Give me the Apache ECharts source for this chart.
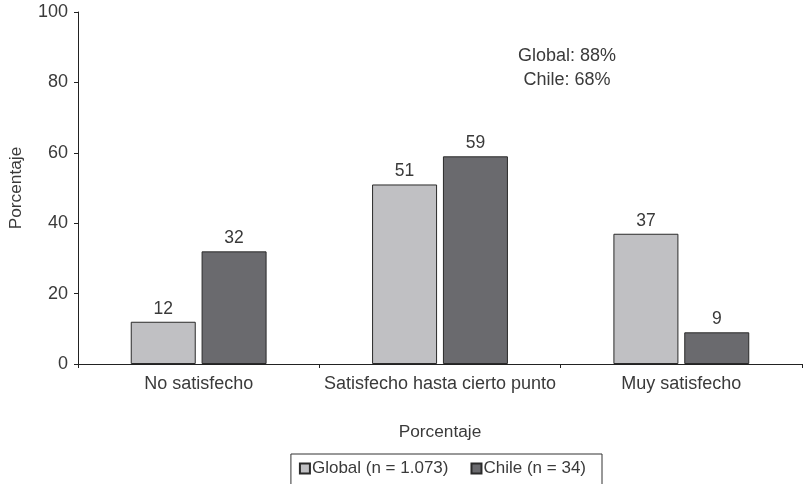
<!DOCTYPE html>
<html>
<head>
<meta charset="utf-8">
<script src="https://cdn.jsdelivr.net/npm/echarts@6/dist/echarts.min.js"></script>
<style>
  html, body { margin: 0; padding: 0; background: #fff; }
  #chart { width: 803px; height: 484px; }
</style>
</head>
<body>
<div id="chart"></div>
<script>
// Satisfaction levels and percentages per group
const categories = ['No satisfecho', 'Satisfecho hasta cierto punto', 'Muy satisfecho'];
const globalValues = [12, 51, 37];
const chileValues = [32, 59, 9];
const seriesNames = ['Global (n = 1.073)', 'Chile (n = 34)'];
const noteLines = ['Global: 88%', 'Chile: 68%'];

const FONT = 'Liberation Sans, Arial, sans-serif';
const TEXT = '#3a3a3a';

const chart = echarts.init(document.getElementById('chart'), null, { renderer: 'canvas' });

const barLabel = {
  show: true,
  position: 'top',
  distance: 4,
  color: TEXT,
  fontFamily: FONT,
  fontSize: 17.5
};

// Summary note, one centred line per group
const noteGraphics = noteLines.map((line, i) => ({
  type: 'text',
  x: 567,
  y: 56 + i * 24,
  style: {
    text: line,
    fill: TEXT,
    font: '18px ' + FONT,
    align: 'center',
    verticalAlign: 'middle'
  }
}));

chart.setOption({
  animation: false,
  grid: { left: 73, right: 1, top: 12, bottom: 120, containLabel: false },
  legend: {
    right: 201,
    top: 454,
    data: seriesNames,
    icon: 'rect',
    itemWidth: 10,
    itemHeight: 10,
    itemGap: 22,
    borderColor: '#333',
    borderWidth: 1,
    padding: [6, 16, 10, 8],
    textStyle: { color: TEXT, fontFamily: FONT, fontSize: 17, padding: [0, 0, 0, -3] }
  },
  xAxis: {
    type: 'category',
    data: categories,
    name: 'Porcentaje',
    nameLocation: 'middle',
    nameGap: 60,
    nameTextStyle: { color: TEXT, fontFamily: FONT, fontSize: 17.3 },
    axisLine: { lineStyle: { color: '#222', width: 1 } },
    axisTick: { show: true, length: 4, alignWithLabel: false, lineStyle: { color: '#222' } },
    axisLabel: { interval: 0, color: TEXT, fontFamily: FONT, fontSize: 18, margin: 11 }
  },
  yAxis: {
    type: 'value',
    min: 0,
    max: 100,
    interval: 20,
    name: 'Porcentaje',
    nameLocation: 'middle',
    nameGap: 53,
    nameTextStyle: { color: TEXT, fontFamily: FONT, fontSize: 17.3 },
    axisLine: { show: true, lineStyle: { color: '#222', width: 1 } },
    axisTick: { show: true, length: 4, lineStyle: { color: '#222' } },
    axisLabel: { color: TEXT, fontFamily: FONT, fontSize: 18, margin: 10 },
    splitLine: { show: false }
  },
  graphic: noteGraphics,
  series: [
    {
      name: seriesNames[0],
      type: 'bar',
      data: globalValues,
      barWidth: 65,
      barGap: '9%',
      itemStyle: { color: '#c0c0c3', borderColor: '#2a2a2a', borderWidth: 1 },
      label: barLabel
    },
    {
      name: seriesNames[1],
      type: 'bar',
      data: chileValues,
      barWidth: 65,
      itemStyle: { color: '#6a6a6e', borderColor: '#2a2a2a', borderWidth: 1 },
      label: barLabel
    }
  ]
});
</script>
</body>
</html>
